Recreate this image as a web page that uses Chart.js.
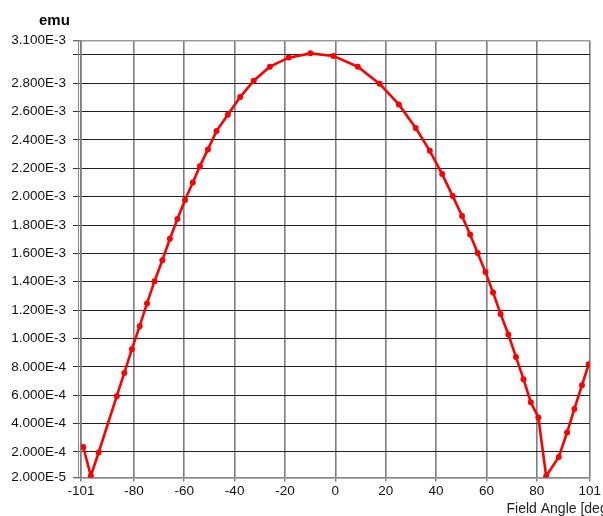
<!DOCTYPE html>
<html>
<head>
<meta charset="utf-8">
<script src="https://cdn.jsdelivr.net/npm/chart.js@4/dist/chart.umd.min.js"></script>
<style>
  html, body { margin: 0; padding: 0; background: #ffffff; }
  #wrap { width: 603px; height: 516px; position: relative; }
</style>
</head>
<body>
<div id="wrap"><canvas id="c" width="603" height="516"></canvas></div>
<script>
// Field angle sweep (deg) and measured moment (emu)
const angles = [
  -100.1, -97.1, -94.0, -86.8, -83.8, -80.8, -77.7, -74.8, -71.8, -68.7,
  -65.7, -62.7, -59.7, -56.6, -53.8, -50.6, -47.2, -42.7, -37.8, -32.4,
  -26.0, -18.5, -9.9, -0.8, 8.9, 17.6, 25.2, 31.9, 37.5, 42.4,
  46.6, 50.3, 53.5, 56.5, 59.6, 62.6, 65.6, 68.7, 71.7, 74.7,
  77.6, 80.6, 83.7, 88.7, 92.0, 94.9, 97.9, 100.6
];
const moments = [
  2.35e-4, 3.1e-5, 1.96e-4, 5.93e-4, 7.57e-4, 9.25e-4, 1.087e-3, 1.247e-3, 1.404e-3, 1.552e-3,
  1.703e-3, 1.842e-3, 1.976e-3, 2.100e-3, 2.215e-3, 2.333e-3, 2.462e-3, 2.577e-3, 2.702e-3, 2.817e-3,
  2.916e-3, 2.980e-3, 3.010e-3, 2.992e-3, 2.916e-3, 2.795e-3, 2.650e-3, 2.484e-3, 2.323e-3, 2.159e-3,
  2.004e-3, 1.863e-3, 1.733e-3, 1.602e-3, 1.468e-3, 1.325e-3, 1.173e-3, 1.028e-3, 0.870e-3, 0.713e-3,
  0.551e-3, 0.443e-3, 2.9e-5, 1.65e-4, 3.37e-4, 5.03e-4, 6.70e-4, 8.19e-4
];

// Axis ticks
const xTicks = [-101, -80, -60, -40, -20, 0, 20, 40, 60, 80, 101];
const yTicks = [2e-5, 2e-4, 4e-4, 6e-4, 8e-4, 1e-3, 1.2e-3, 1.4e-3, 1.6e-3, 1.8e-3,
                2e-3, 2.2e-3, 2.4e-3, 2.6e-3, 2.8e-3, 3.0e-3, 3.1e-3];
const yTickLabels = ['2.000E-5', '2.000E-4', '4.000E-4', '6.000E-4', '8.000E-4', '1.000E-3',
                     '1.200E-3', '1.400E-3', '1.600E-3', '1.800E-3', '2.000E-3', '2.200E-3',
                     '2.400E-3', '2.600E-3', '2.800E-3', '', '3.100E-3'];

const yUnit = 'emu';
const xTitle = 'Field Angle [deg]';

const FONT = "'Liberation Sans', Arial, sans-serif";

const points = angles.map((a, i) => ({ x: a, y: moments[i] }));

// Titles and the doubled left frame line
const decorations = {
  id: 'decorations',
  afterDraw(chart) {
    const { ctx, chartArea } = chart;
    ctx.save();
    ctx.strokeStyle = '#8a8a8a';
    ctx.lineWidth = 1;
    ctx.beginPath();
    ctx.moveTo(Math.round(chartArea.left) - 2.5, chartArea.top);
    ctx.lineTo(Math.round(chartArea.left) - 2.5, chartArea.bottom);
    ctx.stroke();

    ctx.fillStyle = '#000000';
    ctx.font = 'bold 15px ' + FONT;
    ctx.textAlign = 'left';
    ctx.textBaseline = 'alphabetic';
    ctx.fillText(yUnit, 39, 25);

    ctx.fillStyle = '#222222';
    ctx.font = '14px ' + FONT;
    ctx.fillText(xTitle, 506.5, 513);
    ctx.restore();
  }
};

new Chart(document.getElementById('c'), {
  type: 'line',
  data: {
    datasets: [{
      data: points,
      borderColor: '#ff0000',
      backgroundColor: '#ff0000',
      borderWidth: 2.6,
      pointRadius: 3,
      pointHoverRadius: 3,
      pointBorderWidth: 0,
      tension: 0,
      fill: false
    }]
  },
  options: {
    responsive: false,
    animation: false,
    events: [],
    layout: { padding: { left: 0, right: 11.5, top: 40.6, bottom: 0 } },
    plugins: {
      legend: { display: false },
      tooltip: { enabled: false },
      title: { display: false }
    },
    scales: {
      x: {
        type: 'linear',
        min: -101,
        max: 101,
        afterBuildTicks(scale) { scale.ticks = xTicks.map(v => ({ value: v })); },
        afterFit(scale) { scale.height = 38.5; },
        ticks: {
          autoSkip: false,
          maxRotation: 0,
          padding: 2,
          color: '#111111',
          font: { family: FONT, size: 13.5 },
          callback: (v) => String(v)
        },
        grid: {
          color: '#7d7d7d',
          lineWidth: 1.6,
          tickLength: 4,
          tickColor: '#444444',
          tickWidth: 1
        },
        border: { display: true, color: '#8a8a8a', width: 1.6 }
      },
      y: {
        type: 'linear',
        min: 2e-5,
        max: 3.1e-3,
        afterBuildTicks(scale) { scale.ticks = yTicks.map(v => ({ value: v })); },
        afterFit(scale) { scale.width = 81; },
        ticks: {
          autoSkip: false,
          padding: 7,
          color: '#111111',
          font: { family: FONT, size: 13.5 },
          callback: (v, i) => yTickLabels[i]
        },
        grid: {
          color: (ctx) => (ctx.index === 0 || ctx.index === yTicks.length - 1) ? '#9a9a9a' : '#222222',
          lineWidth: (ctx) => (ctx.index === 0 || ctx.index === yTicks.length - 1) ? 1.6 : 1,
          tickLength: 8,
          tickColor: '#333333',
          tickWidth: 1
        },
        border: { display: true, color: '#7d7d7d', width: 1.6 }
      }
    }
  },
  plugins: [decorations]
});
</script>
</body>
</html>
